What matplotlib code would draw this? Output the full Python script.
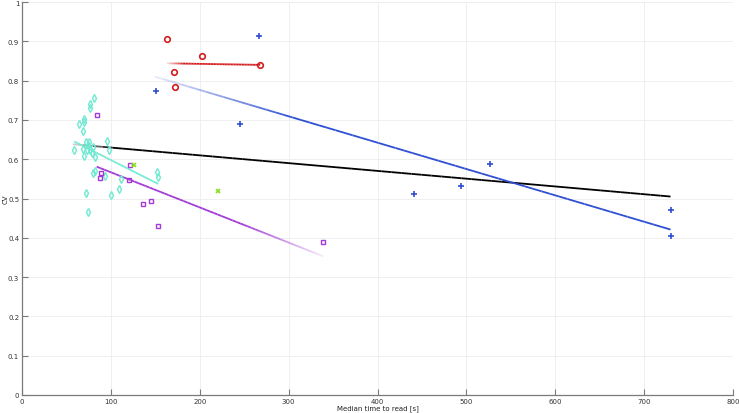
import numpy as np
import matplotlib
matplotlib.use("Agg")
import matplotlib.pyplot as plt
from matplotlib.collections import LineCollection
from matplotlib.colors import to_rgba

# --- data (x = median time to read [s], y = CV) ---
red_x = [162.8, 202.5, 171.0, 171.8, 267.7]
red_y = [0.906, 0.863, 0.821, 0.784, 0.840]

blue_x = [150.7, 266.6, 245.0, 441.0, 494.0, 526.5, 730.0, 730.0]
blue_y = [0.774, 0.913, 0.690, 0.511, 0.532, 0.587, 0.471, 0.405]

purple_x = [84.0, 88.5, 87.7, 122.0, 120.7, 136.0, 145.0, 152.6, 339.0]
purple_y = [0.713, 0.564, 0.552, 0.586, 0.547, 0.487, 0.494, 0.431, 0.389]

green_x = [125.6, 220.5]
green_y = [0.586, 0.519]

cyan_x = [81.3, 76.5, 76.5, 70.1, 64.5, 70.1, 69.0, 95.3, 71.7, 75.7, 58.8, 68.3,
          72.8, 76.5, 70.1, 78.4, 82.1, 98.2, 79.5, 82.1, 93.4, 111.4, 72.0, 99.8,
          109.4, 74.6, 151.5, 153.3, 80.0, 74.0]
cyan_y = [0.756, 0.740, 0.730, 0.702, 0.690, 0.694, 0.672, 0.647, 0.645, 0.645, 0.623, 0.626,
          0.623, 0.623, 0.609, 0.616, 0.606, 0.624, 0.565, 0.571, 0.558, 0.550, 0.514, 0.509,
          0.523, 0.465, 0.567, 0.554, 0.630, 0.635]

# fitted trend lines (end points)
fit_black = ([57.4, 729.7], [0.638, 0.505])
fit_blue = ([149.6, 729.7], [0.810, 0.421])
fit_red = ([163.0, 268.0], [0.844, 0.840])
fit_cyan = ([58.8, 153.3], [0.645, 0.537])
fit_purple = ([84.0, 339.0], [0.581, 0.353])

c_red = '#d41c1c'
c_blue = '#2f4fd2'
c_purple = '#a23ad6'
c_green = '#86e01e'
c_cyan = '#6fe9d2'


def fade_line(ax, xs, ys, color, fade='left', lw=1.3, n=60, frac=0.35):
    # line whose alpha ramps up from one end (like the reference)
    x = np.linspace(xs[0], xs[1], n + 1)
    y = np.linspace(ys[0], ys[1], n + 1)
    segs = [[(x[i], y[i]), (x[i + 1], y[i + 1])] for i in range(n)]
    t = (np.arange(n) + 0.5) / n
    if fade == 'right':
        t = 1 - t
    alpha = np.clip(0.1 + t / frac, 0, 1) if fade else np.ones(n)
    base = np.array(to_rgba(color))
    cols = np.tile(base, (n, 1))
    cols[:, 3] = alpha
    ax.add_collection(LineCollection(segs, colors=cols, linewidths=lw, zorder=2))


fig = plt.figure(figsize=(7.39, 4.14), dpi=100)
ax = fig.add_axes([22 / 739, 18 / 414, 711 / 739, 393 / 414])

ms = 4
ax.plot(cyan_x, cyan_y, 'd', ms=ms, mfc='none', mec=c_cyan, mew=1.0, zorder=3)
ax.plot(purple_x, purple_y, 's', ms=3.5, mfc='none', mec=c_purple, mew=1.0, zorder=3)
ax.plot(green_x, green_y, 'x', ms=3.5, mec=c_green, mew=1.2, zorder=3)
ax.plot(red_x, red_y, 'o', ms=ms, mfc='none', mec=c_red, mew=1.2, zorder=3)
ax.plot(blue_x, blue_y, '+', ms=ms + 1, mec=c_blue, mew=1.2, zorder=3)

fade_line(ax, *fit_black, 'k', fade='left', frac=0.08)
fade_line(ax, *fit_blue, c_blue, fade='left', frac=0.3)
fade_line(ax, *fit_red, c_red, fade='left', frac=0.2)
fade_line(ax, *fit_cyan, c_cyan, fade=None)
fade_line(ax, *fit_purple, c_purple, fade='right', frac=0.4)

ax.set_xlim(0, 800)
ax.set_ylim(0, 1)
ax.set_xticks(np.arange(0, 801, 100))
ax.set_yticks(np.arange(0, 1.01, 0.1))
ax.yaxis.set_major_formatter(plt.FuncFormatter(lambda v, p: "{0:g}".format(round(v, 1))))

ax.grid(True, color='#ececec', linewidth=0.6)
ax.set_axisbelow(True)
for s in ['top', 'right']:
    ax.spines[s].set_visible(False)
for s in ['left', 'bottom']:
    ax.spines[s].set_color('#7a7a7a')
    ax.spines[s].set_linewidth(0.9)
ax.tick_params(direction='in', length=4, width=0.8, color='#7a7a7a',
               labelsize=5, labelcolor='#333333', pad=2)

ax.set_xlabel('Median time to read [s]', fontsize=5, color='#222222', va='center')
ax.set_ylabel('CV', fontsize=5, color='#222222', va='center')
ax.xaxis.set_label_coords(0.5, -0.033)
ax.yaxis.set_label_coords(-0.023, 0.5)

fig.savefig('out.png', dpi=100)
